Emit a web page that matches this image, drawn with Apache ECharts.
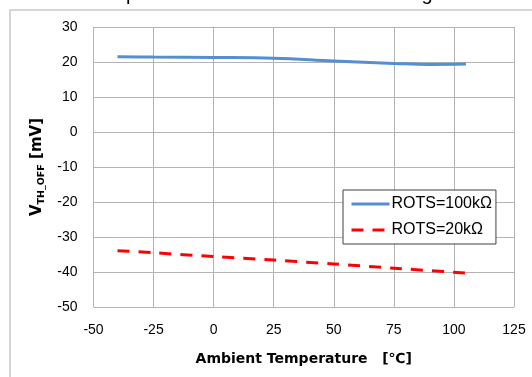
<!DOCTYPE html>
<html>
<head>
<meta charset="utf-8">
<script src="https://cdn.jsdelivr.net/npm/echarts@6/dist/echarts.min.js"></script>
<style>
  html, body { margin: 0; padding: 0; background: #fff; }
  #chart { width: 532px; height: 377px; }
</style>
</head>
<body>
<div id="chart"></div>
<script>
// Ambient temperature [°C] and threshold voltage [mV] per ROTS setting
const temp100k = [-40, -25, 0, 25, 50, 75, 90, 105];
const vth100k  = [21.5, 21.4, 21.3, 21.1, 20.3, 19.6, 19.3, 19.4];
const temp20k  = [-40, -25, 0, 25, 50, 75, 105];
const vth20k   = [-33.9, -34.5, -35.6, -36.6, -37.7, -38.9, -40.3];

const seriesNames = ['ROTS=100kΩ', 'ROTS=20kΩ'];
const xTicks = { min: -50, max: 125, step: 25 };
const yTicks = { min: -50, max: 30, step: 10 };

const pair = (xs, ys) => xs.map((x, i) => [x, ys[i]]);

const font = 'Liberation Sans';
const boldFont = 'DejaVu Sans';
const gridColor = '#b3b3b3';

const chart = echarts.init(document.getElementById('chart'), null, { renderer: 'canvas' });
chart.setOption({
  animation: false,
  backgroundColor: '#ffffff',
  title: {
    text: 'Temperature vs. OFF Threshold Voltage',
    left: 'center',
    top: -21,
    textStyle: { fontFamily: font, fontSize: 20, fontWeight: 'normal', color: '#000' }
  },
  graphic: [{
    type: 'rect',
    shape: { x: 10, y: 10, width: 600, height: 420 },
    style: { fill: 'none', stroke: '#c8c8c8', lineWidth: 1.5 },
    silent: true,
    z: -1
  }],
  grid: { left: 93.5, right: 18, top: 27, bottom: 70, containLabel: false },
  legend: {
    orient: 'vertical',
    left: 343,
    top: 190,
    padding: [6, 4, 6, 7],
    itemGap: 10,
    itemWidth: 38,
    itemHeight: 18,
    backgroundColor: '#ffffff',
    borderColor: '#404040',
    borderWidth: 1,
    borderRadius: 0,
    itemStyle: { opacity: 0 },
    lineStyle: { width: 3 },
    textStyle: { fontFamily: font, fontSize: 16, color: '#000', padding: [0, 0, 0, -3] },
    data: seriesNames
  },
  xAxis: {
    type: 'value',
    min: xTicks.min, max: xTicks.max, interval: xTicks.step,
    name: 'Ambient Temperature   [℃]',
    nameLocation: 'middle',
    nameGap: 45,
    nameTextStyle: { fontFamily: boldFont, fontSize: 14, fontWeight: 'bold', color: '#000' },
    axisLine: { show: true, lineStyle: { color: gridColor, width: 1 } },
    axisTick: { show: false },
    axisLabel: { fontFamily: font, fontSize: 14, color: '#000', margin: 16 },
    splitLine: { show: true, lineStyle: { color: gridColor, width: 1 } }
  },
  yAxis: {
    type: 'value',
    min: yTicks.min, max: yTicks.max, interval: yTicks.step,
    name: '{v|V}{s|TH_OFF}{v| [mV]}',
    nameLocation: 'middle',
    nameGap: 43,
    nameTextStyle: {
      rich: {
        v: { fontFamily: boldFont, fontSize: 15, fontWeight: 'bold', color: '#000' },
        s: { fontFamily: boldFont, fontSize: 9.5, fontWeight: 'bold', color: '#000', padding: [8, 0, 0, 0] }
      }
    },
    axisLine: { show: true, lineStyle: { color: gridColor, width: 1 } },
    axisTick: { show: false },
    axisLabel: { fontFamily: font, fontSize: 14, color: '#000', margin: 16 },
    splitLine: { show: true, lineStyle: { color: gridColor, width: 1 } }
  },
  series: [
    {
      name: seriesNames[0],
      type: 'line',
      smooth: 0.4,
      symbol: 'none',
      data: pair(temp100k, vth100k),
      lineStyle: { color: '#558ed5', width: 3 },
      itemStyle: { color: '#558ed5' }
    },
    {
      name: seriesNames[1],
      type: 'line',
      smooth: 0.3,
      symbol: 'none',
      data: pair(temp20k, vth20k),
      lineStyle: { color: '#ff0000', width: 3, type: [12, 9] },
      itemStyle: { color: '#ff0000' }
    }
  ]
});
</script>
</body>
</html>
